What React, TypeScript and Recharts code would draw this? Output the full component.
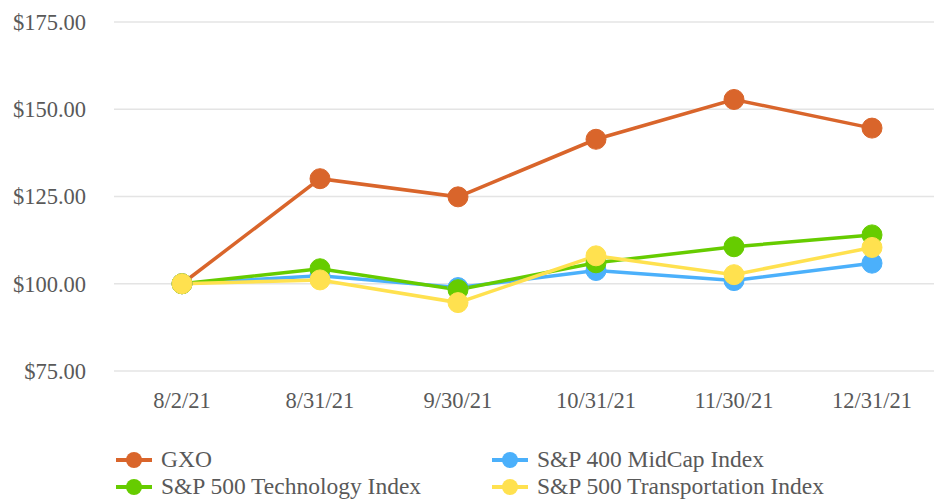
import React from "react";
import { LineChart, Line, XAxis, YAxis, CartesianGrid } from "recharts";

const dates = ["8/2/21", "8/31/21", "9/30/21", "10/31/21", "11/30/21", "12/31/21"];
const gxo = [100, 130.1, 124.9, 141.4, 152.8, 144.6];
const midCap = [100, 102.3, 98.9, 103.8, 100.9, 105.9];
const tech = [100, 104.3, 98.3, 106.0, 110.6, 114.0];
const transport = [100, 101.1, 94.6, 108.0, 102.6, 110.4];
const yTicks = [75, 100, 125, 150, 175];

const series = [
  { key: "gxo", name: "GXO", color: "#D9652B" },
  { key: "midCap", name: "S&P 400 MidCap Index", color: "#4BB0FB" },
  { key: "tech", name: "S&P 500 Technology Index", color: "#66CC00" },
  { key: "transport", name: "S&P 500 Transportation Index", color: "#FFE14F" },
];

const data = dates.map((date, i) => ({
  date,
  gxo: gxo[i],
  midCap: midCap[i],
  tech: tech[i],
  transport: transport[i],
}));

const FONT = "'Liberation Serif', 'Times New Roman', serif";
const TEXT = "#595959";

// legend sits below the plot, two columns like the original
const ChartLegend = () => (
  <div
    style={{
      position: "absolute",
      left: 116,
      top: 446,
      display: "grid",
      gridTemplateColumns: "376px 400px",
      fontFamily: FONT,
      fontSize: 23.5,
      color: TEXT,
    }}
  >
    {series.map((s) => (
      <div key={s.key} style={{ display: "flex", alignItems: "center", height: 27 }}>
        <svg width={45} height={20}>
          <line x1={0} y1={10} x2={36} y2={10} stroke={s.color} strokeWidth={4} />
          <circle cx={18} cy={10} r={8} fill={s.color} />
        </svg>
        <span style={{ lineHeight: 1, whiteSpace: "nowrap" }}>{s.name}</span>
      </div>
    ))}
  </div>
);

export default function App() {
  return (
    <div style={{ position: "absolute", left: 0, top: 0, width: 934, height: 499, overflow: "hidden", background: "#fff" }}>
      <LineChart width={934} height={499} data={data} margin={{ top: 22, right: 0, left: 0, bottom: 98 }}>
        <CartesianGrid vertical={false} stroke="#E4E4E4" strokeWidth={1.5} />
        <XAxis
          dataKey="date"
          height={30}
          axisLine={false}
          tickLine={false}
          padding={{ left: 68, right: 62 }}
          tickMargin={15}
          tick={{ fill: TEXT, fontSize: 22.5, fontFamily: FONT }}
          interval={0}
        />
        <YAxis
          width={114}
          domain={[75, 175]}
          ticks={yTicks}
          axisLine={false}
          tickLine={false}
          tickMargin={22}
          tickFormatter={(v: number) => `$${v.toFixed(2)}`}
          tick={{ fill: TEXT, fontSize: 22.5, fontFamily: FONT }}
        />
        {series.map((s) => (
          <Line
            key={s.key}
            dataKey={s.key}
            name={s.name}
            stroke={s.color}
            strokeWidth={3.5}
            dot={{ r: 10, fill: s.color, stroke: s.color, strokeWidth: 1 }}
            activeDot={false}
            isAnimationActive={false}
          />
        ))}
      </LineChart>
      <ChartLegend />
    </div>
  );
}
